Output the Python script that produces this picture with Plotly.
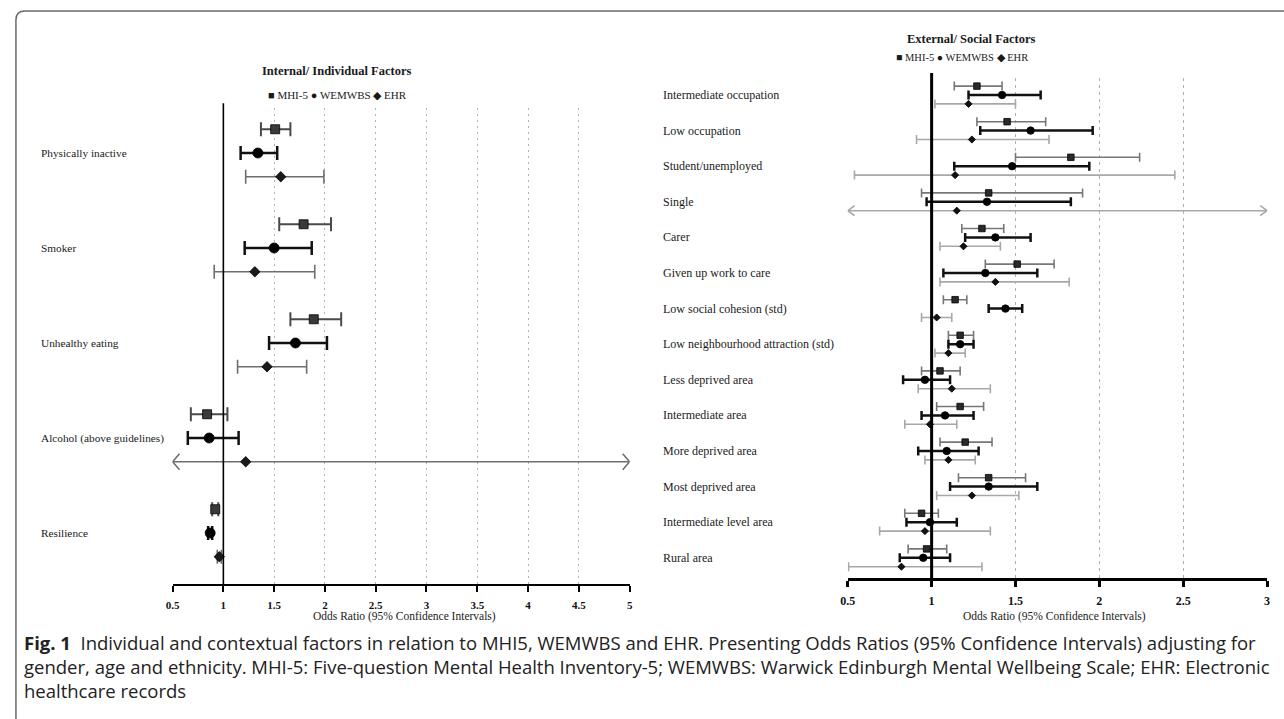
import plotly.graph_objects as go

W, H = 1284, 719

# ---------------- data ----------------
left_categories = ["Physically inactive", "Smoker", "Unhealthy eating",
                   "Alcohol (above guidelines)", "Resilience"]
left_mhi5_or = [1.51, 1.79, 1.89, 0.84, 0.92]
left_mhi5_lo = [1.37, 1.55, 1.66, 0.68, 0.89]
left_mhi5_hi = [1.66, 2.06, 2.16, 1.04, 0.95]
left_wem_or = [1.34, 1.50, 1.71, 0.86, 0.87]
left_wem_lo = [1.17, 1.21, 1.45, 0.65, 0.85]
left_wem_hi = [1.53, 1.87, 2.02, 1.15, 0.89]
left_ehr_or = [1.565, 1.31, 1.43, 1.22, 0.96]
left_ehr_lo = [1.22, 0.91, 1.14, 0.40, 0.94]
left_ehr_hi = [1.99, 1.90, 1.82, 5.50, 0.98]

right_categories = ["Intermediate occupation", "Low occupation", "Student/unemployed", "Single",
                    "Carer", "Given up work to care", "Low social cohesion (std)",
                    "Low neighbourhood attraction (std)", "Less deprived area", "Intermediate area",
                    "More deprived area", "Most deprived area", "Intermediate level area", "Rural area"]
right_mhi5_or = [1.27, 1.45, 1.83, 1.34, 1.30, 1.51, 1.14, 1.17, 1.05, 1.17, 1.20, 1.34, 0.94, 0.97]
right_mhi5_lo = [1.135, 1.27, 1.50, 0.94, 1.18, 1.32, 1.07, 1.10, 0.94, 1.03, 1.05, 1.16, 0.84, 0.86]
right_mhi5_hi = [1.42, 1.68, 2.24, 1.90, 1.43, 1.73, 1.21, 1.25, 1.17, 1.31, 1.36, 1.56, 1.04, 1.09]
right_wem_or = [1.42, 1.59, 1.48, 1.33, 1.38, 1.32, 1.44, 1.17, 0.96, 1.08, 1.09, 1.34, 0.99, 0.95]
right_wem_lo = [1.22, 1.29, 1.135, 0.97, 1.20, 1.07, 1.34, 1.10, 0.83, 0.94, 0.92, 1.11, 0.85, 0.81]
right_wem_hi = [1.65, 1.96, 1.94, 1.83, 1.59, 1.63, 1.54, 1.25, 1.11, 1.25, 1.28, 1.63, 1.15, 1.11]
right_ehr_or = [1.22, 1.24, 1.14, 1.15, 1.19, 1.38, 1.03, 1.10, 1.12, 0.99, 1.10, 1.24, 0.96, 0.82]
right_ehr_lo = [1.02, 0.91, 0.54, 0.40, 1.05, 1.05, 0.94, 1.02, 0.92, 0.84, 0.96, 1.03, 0.69, 0.505]
right_ehr_hi = [1.50, 1.70, 2.45, 3.20, 1.41, 1.82, 1.12, 1.20, 1.35, 1.15, 1.26, 1.52, 1.35, 1.30]

left_ticks = [0.5, 1, 1.5, 2, 2.5, 3, 3.5, 4, 4.5, 5]
right_ticks = [0.5, 1, 1.5, 2, 2.5, 3]
series_names = ["MHI-5", "WEMWBS", "EHR"]

# ---------------- layout geometry (pixels) ----------------
def px(x):
    return x / W

def py(y):
    return 1 - y / H

panels = {
    "left": dict(x0=166, x1=627, xr=[0.5, 5], top=108, bottom=584, cat0=153, gap=95,
                 xa="x", ya="y", label_x=31),
    "right": dict(x0=847, x1=1270, xr=[0.5, 3], top=78, bottom=578, cat0=95, gap=35.6,
                  xa="x2", ya="y2", label_x=659),
}
for p in panels.values():
    p["yr"] = [(p["bottom"] - p["cat0"]) / p["gap"], (p["top"] - p["cat0"]) / p["gap"]]
    p["xscale"] = (p["x1"] - p["x0"]) / (p["xr"][1] - p["xr"][0])  # px per unit

OFFSET = [-0.25, 0.0, 0.25]

styles = {
    "left": [
        dict(lc="#4a4a4a", lw=2.0, cap=7, sym="square", ms=9, mc="#3a3a3a"),
        dict(lc="#111111", lw=2.5, cap=7, sym="circle", ms=10, mc="#000000"),
        dict(lc="#6e6e6e", lw=1.6, cap=7, sym="diamond", ms=8, mc="#1a1a1a"),
    ],
    "right": [
        dict(lc="#777777", lw=1.6, cap=4.5, sym="square", ms=6.5, mc="#2a2a2a"),
        dict(lc="#111111", lw=2.5, cap=4.5, sym="circle", ms=7.5, mc="#000000"),
        dict(lc="#a8a8a8", lw=1.6, cap=4.5, sym="diamond", ms=5.5, mc="#111111"),
    ],
}

data_sets = {
    "left": (left_categories, [(left_mhi5_or, left_mhi5_lo, left_mhi5_hi),
                               (left_wem_or, left_wem_lo, left_wem_hi),
                               (left_ehr_or, left_ehr_lo, left_ehr_hi)]),
    "right": (right_categories, [(right_mhi5_or, right_mhi5_lo, right_mhi5_hi),
                                 (right_wem_or, right_wem_lo, right_wem_hi),
                                 (right_ehr_or, right_ehr_lo, right_ehr_hi)]),
}

fig = go.Figure()

for key, p in panels.items():
    cats, series = data_sets[key]
    xmin, xmax = p["xr"]
    for s, (orv, lo, hi) in enumerate(series):
        st = styles[key][s]
        cap_d = st["cap"] / p["gap"]          # half cap height in data units
        chev_x = 7 / p["xscale"]               # chevron depth in data units
        chev_y = 8 / p["gap"] if key == "left" else 5 / p["gap"]
        lx, ly = [], []
        ys = [i + OFFSET[s] for i in range(len(cats))]
        for v_lo, v_hi, y in zip(lo, hi, ys):
            a, b = max(v_lo, xmin), min(v_hi, xmax)
            lx += [a, b, None]
            ly += [y, y, None]
            if v_lo >= xmin:
                lx += [a, a, None]; ly += [y - cap_d, y + cap_d, None]
            else:
                lx += [a + chev_x, a, a + chev_x, None]; ly += [y - chev_y, y, y + chev_y, None]
            if v_hi <= xmax:
                lx += [b, b, None]; ly += [y - cap_d, y + cap_d, None]
            else:
                lx += [b - chev_x, b, b - chev_x, None]; ly += [y - chev_y, y, y + chev_y, None]
        fig.add_trace(go.Scatter(x=lx, y=ly, mode="lines", xaxis=p["xa"], yaxis=p["ya"],
                                 line=dict(color=st["lc"], width=st["lw"]),
                                 showlegend=False, hoverinfo="skip", cliponaxis=False))
        fig.add_trace(go.Scatter(x=orv, y=ys, mode="markers", xaxis=p["xa"], yaxis=p["ya"],
                                 name=series_names[s], showlegend=False, cliponaxis=False,
                                 marker=dict(symbol=st["sym"], size=st["ms"], color=st["mc"],
                                             line=dict(color="#000000", width=0.8))))

axis_common = dict(showgrid=True, gridwidth=1,
                   zeroline=False, showline=True, linecolor="#000000", ticks="outside",
                   tickcolor="#000000", mirror=False, fixedrange=True)

fig.update_layout(
    xaxis=dict(domain=[px(panels["left"]["x0"]), px(panels["left"]["x1"])], range=panels["left"]["xr"],
               anchor="y", tickvals=left_ticks, ticktext=[f"{t:g}" for t in left_ticks],
               linewidth=2, tickwidth=2, ticklen=6, ticklabelstandoff=4,
               griddash="2px,4px", gridcolor="#b5b5b5",
               tickfont=dict(family="Liberation Serif", size=11, color="#111111", weight="bold"),
               **axis_common),
    yaxis=dict(domain=[py(panels["left"]["bottom"]), py(panels["left"]["top"])],
               range=panels["left"]["yr"], anchor="x", visible=False, fixedrange=True),
    xaxis2=dict(domain=[px(panels["right"]["x0"]), px(panels["right"]["x1"])], range=panels["right"]["xr"],
                anchor="y2", tickvals=right_ticks, ticktext=[f"{t:g}" for t in right_ticks],
                linewidth=3, tickwidth=3, ticklen=6, ticklabelstandoff=4,
                griddash="3px,4px", gridcolor="#b0b0b0",
                tickfont=dict(family="Liberation Serif", size=12, color="#111111", weight="bold"),
                **axis_common),
    yaxis2=dict(domain=[py(panels["right"]["bottom"]), py(panels["right"]["top"])],
                range=panels["right"]["yr"], anchor="x2", visible=False, fixedrange=True),
    width=W, height=H, margin=dict(l=0, r=0, t=0, b=0),
    paper_bgcolor="#ffffff", plot_bgcolor="rgba(0,0,0,0)",
    showlegend=False,
)

shapes = []
# reference line at OR = 1
shapes.append(dict(type="line", xref="x", yref="y domain", x0=1, x1=1, y0=0, y1=1.01,
                   line=dict(color="#000000", width=1.6)))
shapes.append(dict(type="line", xref="x2", yref="y2 domain", x0=1, x1=1, y0=0, y1=1.01,
                   line=dict(color="#000000", width=3)))
# frame with rounded top-left corner
r = 9
fx = 8
path = (f"M {px(fx)},{py(H + 5)} L {px(fx)},{py(11 + r)} "
        f"Q {px(fx)},{py(11)} {px(fx + r)},{py(11)} L {px(W + 5)},{py(11)}")
shapes.append(dict(type="path", xref="paper", yref="paper", path=path,
                   line=dict(color="#6a6a6a", width=1.5)))
fig.update_layout(shapes=shapes)

ann = []
serif = "Liberation Serif"
label_size = {"left": 11.3, "right": 12}
axis_title = {"left": (400, 11.5), "right": (1056, 11.5)}
for key, p in panels.items():
    cats, _ = data_sets[key]
    for i, c in enumerate(cats):
        ann.append(dict(text=c, xref="paper", x=px(p["label_x"]), yref=p["ya"], y=i,
                        xanchor="left", yanchor="middle", showarrow=False,
                        font=dict(family=serif, size=label_size[key], color="#1a1a1a")))
    cx, fs = axis_title[key]
    ann.append(dict(text="Odds Ratio (95% Confidence Intervals)", xref="paper", x=px(cx),
                    yref="paper", y=py(616), xanchor="center", yanchor="middle",
                    showarrow=False, font=dict(family=serif, size=fs, color="#1a1a1a")))

# panel titles and legends
ann.append(dict(text="<b>Internal/ Individual Factors</b>", xref="paper", x=px(331), yref="paper",
                y=py(71), xanchor="center", yanchor="middle", showarrow=False,
                font=dict(family=serif, size=12.5, color="#1a1a1a")))
ann.append(dict(text="■ MHI-5 ● WEMWBS ◆ EHR", xref="paper", x=px(332), yref="paper",
                y=py(95), xanchor="center", yanchor="middle", showarrow=False,
                font=dict(family=serif, size=11, color="#1a1a1a")))
ann.append(dict(text="<b>External/ Social Factors</b>", xref="paper", x=px(972), yref="paper",
                y=py(39), xanchor="center", yanchor="middle", showarrow=False,
                font=dict(family=serif, size=12.5, color="#1a1a1a")))
ann.append(dict(text="■ MHI-5 ● WEMWBS ◆ EHR", xref="paper", x=px(962), yref="paper",
                y=py(57), xanchor="center", yanchor="middle", showarrow=False,
                font=dict(family=serif, size=10.5, color="#1a1a1a")))

# caption
cap_font = dict(family="Open Sans", size=18.5, color="#222222")
caption_lines = [
    "<b>Fig. 1</b>  Individual and contextual factors in relation to MHI5, WEMWBS and EHR. Presenting Odds Ratios (95% Confidence Intervals) adjusting for",
    "gender, age and ethnicity. MHI-5: Five-question Mental Health Inventory-5; WEMWBS: Warwick Edinburgh Mental Wellbeing Scale; EHR: Electronic",
    "healthcare records",
]
for k, line in enumerate(caption_lines):
    ann.append(dict(text=line, xref="paper", x=px(14), yref="paper", y=py(642 + 24 * k),
                    xanchor="left", yanchor="middle", showarrow=False, font=cap_font))

fig.update_layout(annotations=ann)

fig.write_html("out.html", config={"displayModeBar": False},
               post_script="document.body.style.margin='0px';document.body.style.overflow='hidden';")
